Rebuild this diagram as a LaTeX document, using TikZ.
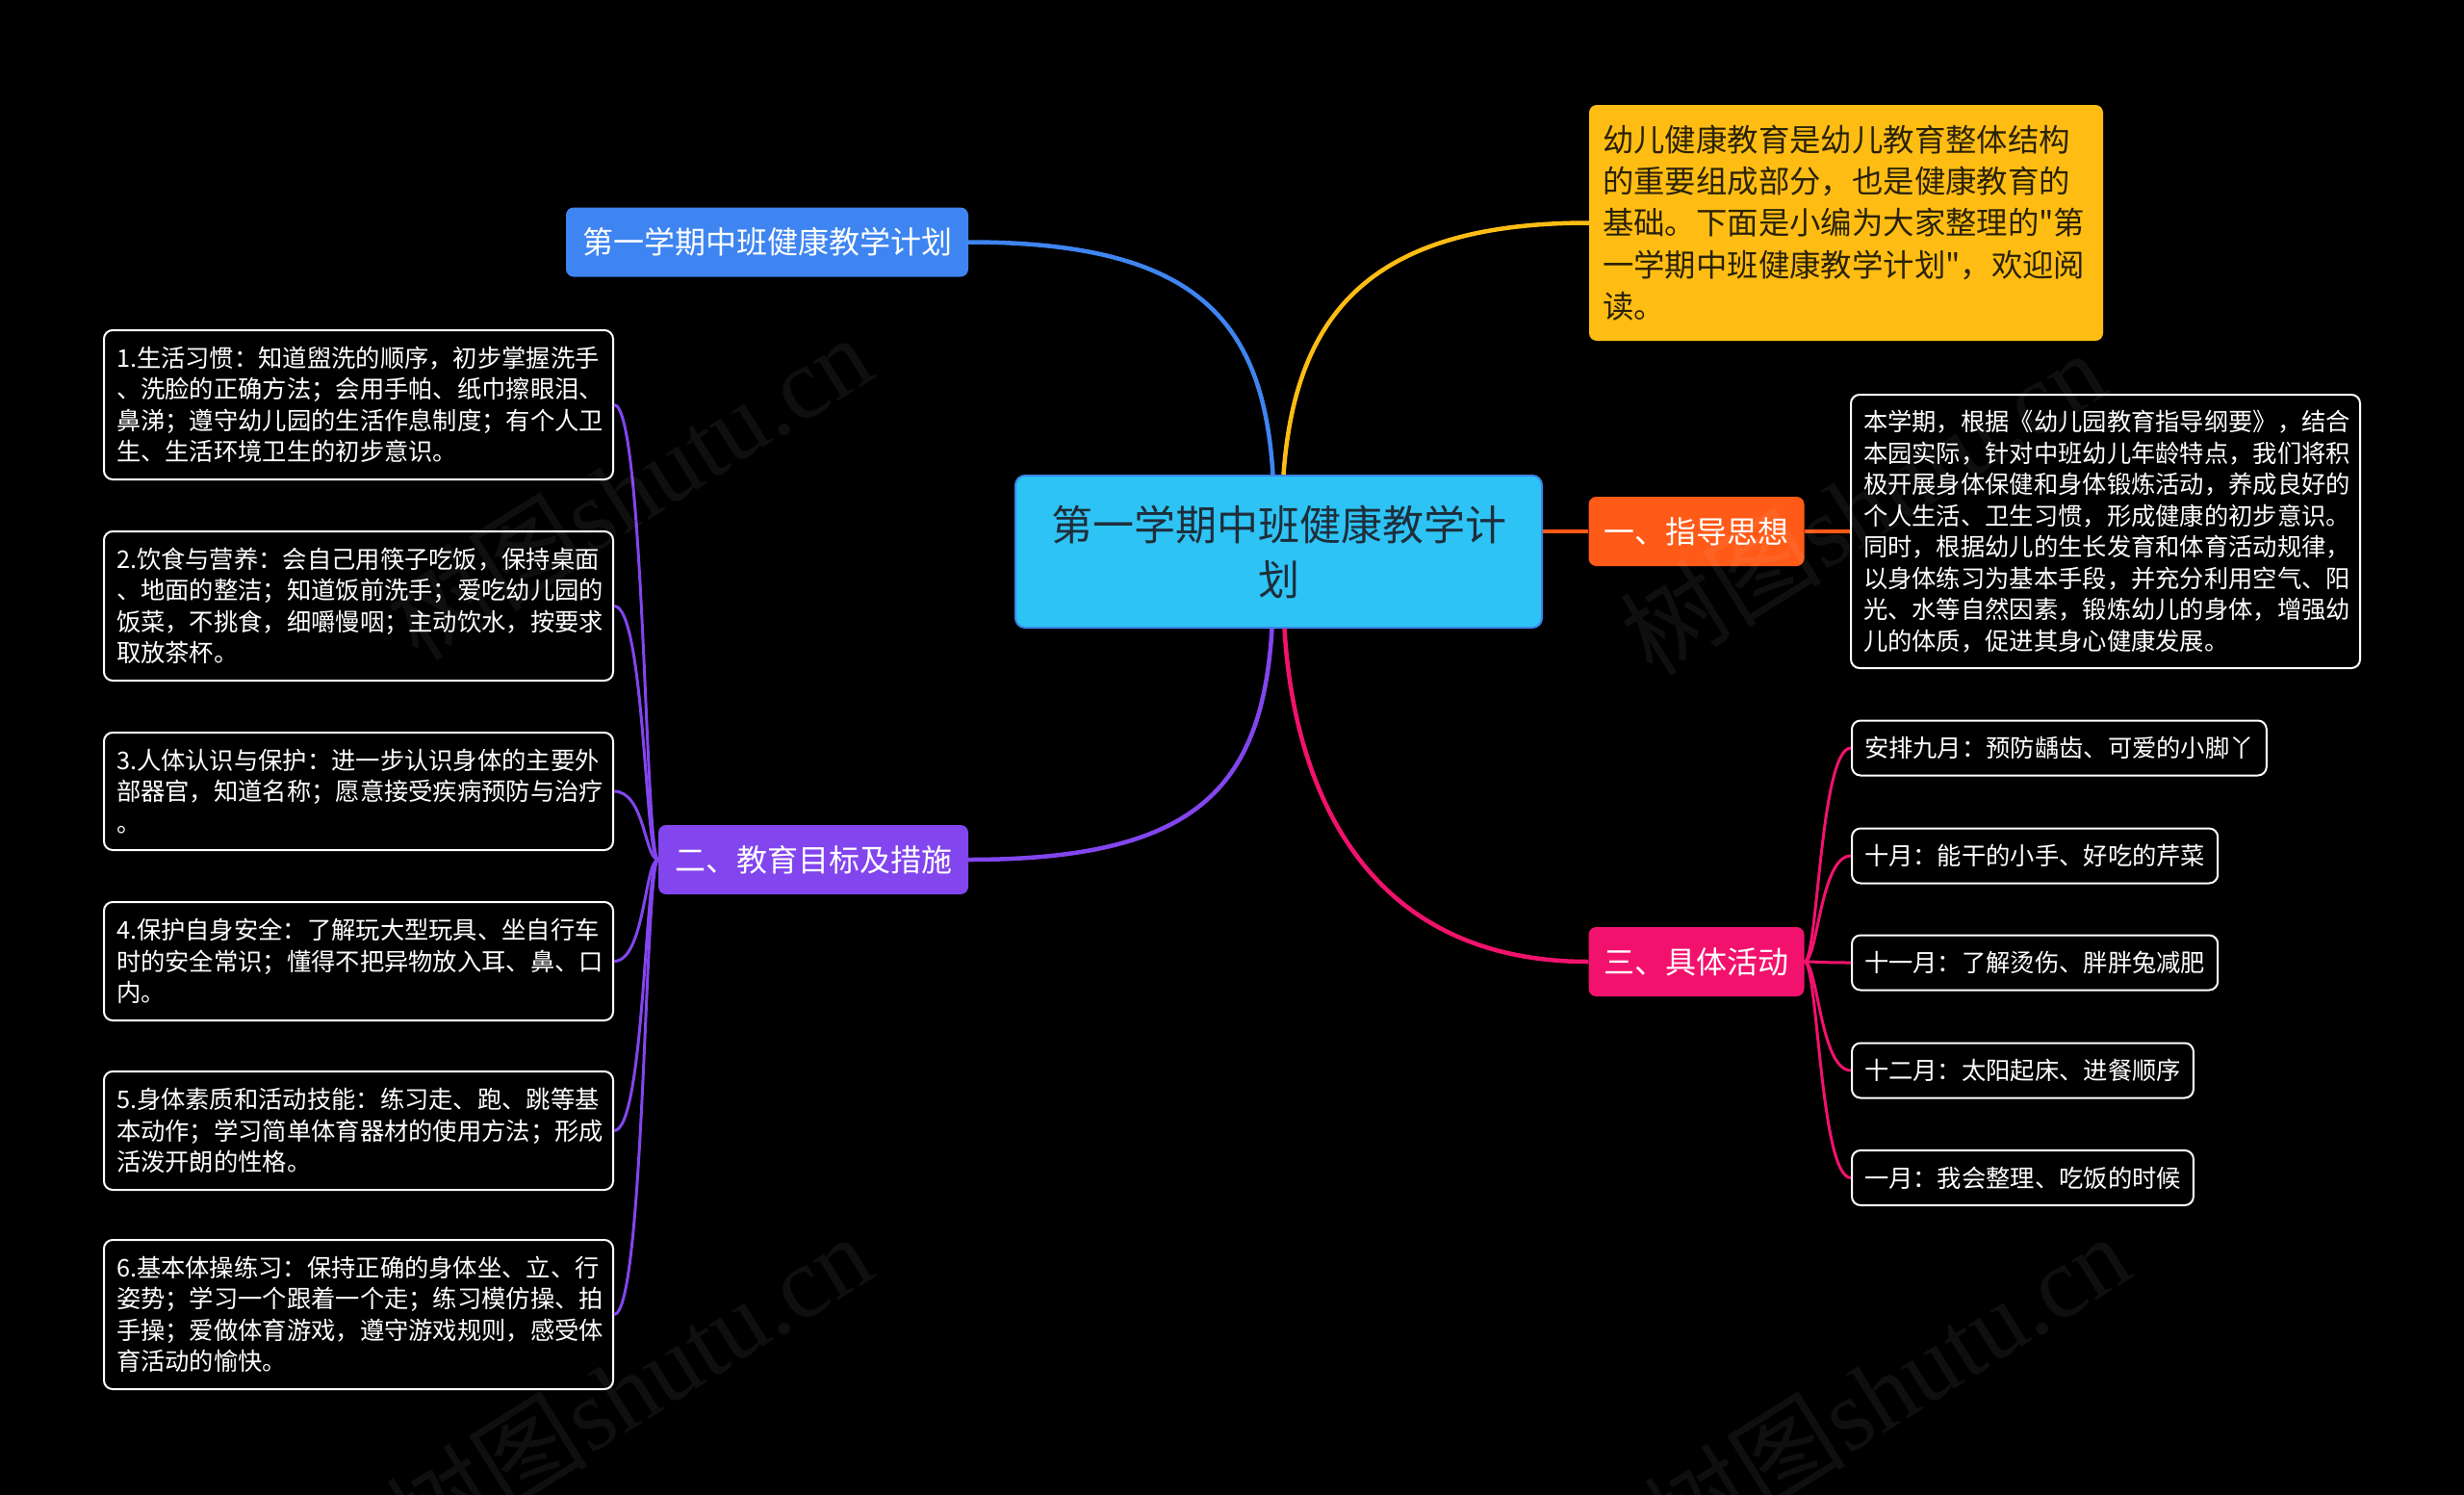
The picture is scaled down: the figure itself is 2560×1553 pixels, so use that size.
\documentclass[tikz,border=0pt]{standalone}
\usepackage{fontspec}
\setmainfont{Noto Sans CJK SC}
\newfontfamily\plaincjk{Noto Sans CJK SC}
\newfontfamily\wmserif{Liberation Serif}
\usetikzlibrary{calc}
\definecolor{cCenter}{HTML}{2EC3F5}
\definecolor{cCenterBd}{HTML}{3A86E8}
\definecolor{cCenterTx}{HTML}{1E2E3A}
\definecolor{cBlue}{HTML}{3F85F1}
\definecolor{cYellow}{HTML}{FFBD14}
\definecolor{cYellowTx}{HTML}{2A2206}
\definecolor{cOrange}{HTML}{FF5A17}
\definecolor{cPink}{HTML}{F2126D}
\definecolor{cPurple}{HTML}{8245EE}
\definecolor{cWater}{HTML}{FFFFFF}
\newcommand{\sq}{{\plaincjk\symbol{34}}}
\tikzset{
  leafbox/.style={draw=white, line width=2pt, rounded corners=9pt, fill=black,
    text=white, font=\fontsize{25.3}{32.5}\selectfont, align=left,
    inner xsep=13pt, inner ysep=0pt},
  branchbox/.style={rounded corners=8pt, text=white,
    font=\fontsize{32}{40}\selectfont, minimum height=72pt, inner xsep=16pt, inner ysep=0pt},
  mainline/.style={line width=4.5pt},
  subline/.style={line width=3pt},
  watermark/.style={text=cWater, opacity=0.06, rotate=32, font=\wmserif\fontsize{105}{105}\selectfont}
}
\begin{document}
\begin{tikzpicture}[x=1pt,y=-1pt]
\fill[black] (0,0) rectangle (2560,1553);
\useasboundingbox (0,0) rectangle (2560,1553);

% central
\node[draw=cCenterBd, line width=2pt, fill=cCenter, rounded corners=10pt,
  minimum width=547pt, minimum height=158pt, inner sep=0pt, align=center,
  text=cCenterTx, font=\fontsize{43}{57}\selectfont] (root) at (1328.5,573)
  {第一学期中班健康教学计\\划};

% branches
\node[branchbox, fill=cBlue, minimum width=418pt] (b0) at (797,251.5) {第一学期中班健康教学计划};
\node[rounded corners=8pt, fill=cYellow, text=cYellowTx, align=left,
  text width=506pt, inner xsep=14pt, inner ysep=0pt, minimum height=245pt,
  font=\fontsize{32.4}{43.3}\selectfont] (intro) at (1918,231.5)
  {幼儿健康教育是幼儿教育整体结构\\
   的重要组成部分，也是健康教育的\\
   基础。下面是小编为大家整理的\sq 第\\
   一学期中班健康教学计划\sq ，欢迎阅\\
   读。};
\node[branchbox, fill=cOrange, minimum width=223pt] (b1) at (1762.5,552) {一、指导思想};
\node[branchbox, fill=cPurple, minimum width=322pt] (b2) at (845,893) {二、教育目标及措施};
\node[branchbox, fill=cPink, minimum width=223pt] (b3) at (1762.5,999) {三、具体活动};

% guide text
\node[leafbox, text width=503pt, minimum height=284pt] (g1) at (2187.5,552)
  {本学期，根据《幼儿园教育指导纲要》，结合\\
   本园实际，针对中班幼儿年龄特点，我们将积\\
   极开展身体保健和身体锻炼活动，养成良好的\\
   个人生活、卫生习惯，形成健康的初步意识。\\
   同时，根据幼儿的生长发育和体育活动规律，\\
   以身体练习为基本手段，并充分利用空气、阳\\
   光、水等自然因素，锻炼幼儿的身体，增强幼\\
   儿的体质，促进其身心健康发展。};

% left leaves
\node[leafbox, text width=503pt, minimum height=155pt] (l1) at (372.5,420.5)
  {1.生活习惯：知道盥洗的顺序，初步掌握洗手\\
   、洗脸的正确方法；会用手帕、纸巾擦眼泪、\\
   鼻涕；遵守幼儿园的生活作息制度；有个人卫\\
   生、生活环境卫生的初步意识。};
\node[leafbox, text width=503pt, minimum height=155pt] (l2) at (372.5,629.5)
  {2.饮食与营养：会自己用筷子吃饭，保持桌面\\
   、地面的整洁；知道饭前洗手；爱吃幼儿园的\\
   饭菜，不挑食，细嚼慢咽；主动饮水，按要求\\
   取放茶杯。};
\node[leafbox, text width=503pt, minimum height=122pt] (l3) at (372.5,822)
  {3.人体认识与保护：进一步认识身体的主要外\\
   部器官，知道名称；愿意接受疾病预防与治疗\\
   。};
\node[leafbox, text width=503pt, minimum height=123pt] (l4) at (372.5,998.5)
  {4.保护自身安全：了解玩大型玩具、坐自行车\\
   时的安全常识；懂得不把异物放入耳、鼻、口\\
   内。};
\node[leafbox, text width=503pt, minimum height=123pt] (l5) at (372.5,1174.5)
  {5.身体素质和活动技能：练习走、跑、跳等基\\
   本动作；学习简单体育器材的使用方法；形成\\
   活泼开朗的性格。};
\node[leafbox, text width=503pt, minimum height=155pt] (l6) at (372.5,1365.5)
  {6.基本体操练习：保持正确的身体坐、立、行\\
   姿势；学习一个跟着一个走；练习模仿操、拍\\
   手操；爱做体育游戏，遵守游戏规则，感受体\\
   育活动的愉快。};

% month leaves
\node[leafbox, minimum height=57pt, anchor=west] (m1) at (1923,777) {安排九月：预防龋齿、可爱的小脚丫};
\node[leafbox, minimum height=57pt, anchor=west] (m2) at (1923,889) {十月：能干的小手、好吃的芹菜};
\node[leafbox, minimum height=57pt, anchor=west] (m3) at (1923,1000) {十一月：了解烫伤、胖胖兔减肥};
\node[leafbox, minimum height=57pt, anchor=west] (m4) at (1923,1112) {十二月：太阳起床、进餐顺序};
\node[leafbox, minimum height=57pt, anchor=west] (m5) at (1923,1223.5) {一月：我会整理、吃饭的时候};

% main connectors
\coordinate (rt1) at ($(root.north)+(-6,0)$);
\coordinate (rt2) at ($(root.north)+(5,0)$);
\coordinate (rb1) at ($(root.south)+(-7,0)$);
\coordinate (rb2) at ($(root.south)+(6,0)$);
\draw[mainline, cBlue] (rt1) .. controls ($(rt1)+(-10,-163)$) and ($(b0.east)+(234,0)$) .. (b0.east);
\draw[mainline, cYellow] (rt2) .. controls ($(rt2)+(12,-163)$) and ($(intro.west)+(-231,0)$) .. (intro.west);
\draw[mainline, cOrange] (root.east |- b1.west) -- (b1.west);
\draw[mainline, cOrange] (b1.east) -- (g1.west);
\draw[mainline, cPurple] (rb1) .. controls ($(rb1)+(-10,168)$) and ($(b2.east)+(234,0)$) .. (b2.east);
\draw[mainline, cPink] (rb2) .. controls ($(rb2)+(10,168)$) and ($(b3.west)+(-231,0)$) .. (b3.west);

% purple sub-connectors
\foreach \n in {l1,l2,l3,l4,l5,l6}{
  \draw[subline, cPurple] (b2.west) .. controls ($(b2.west)+(-14,0)$) and ($(\n.east)+(32,0)$) .. (\n.east);
}
% pink sub-connectors
\foreach \n in {m1,m2,m3,m4,m5}{
  \draw[subline, cPink] (b3.east) .. controls ($(b3.east)+(14,0)$) and ($(\n.west)+(-32,0)$) .. (\n.west);
}

% watermarks
\node[watermark] (w1) at (653,506) {{\plaincjk 树图}shutu.cn};
\node[watermark] (w2) at (1935,522) {{\plaincjk 树图}shutu.cn};
\node[watermark] (w3) at (653,1440) {{\plaincjk 树图}shutu.cn};
\node[watermark] (w4) at (1960,1440) {{\plaincjk 树图}shutu.cn};
\end{tikzpicture}
\end{document}
